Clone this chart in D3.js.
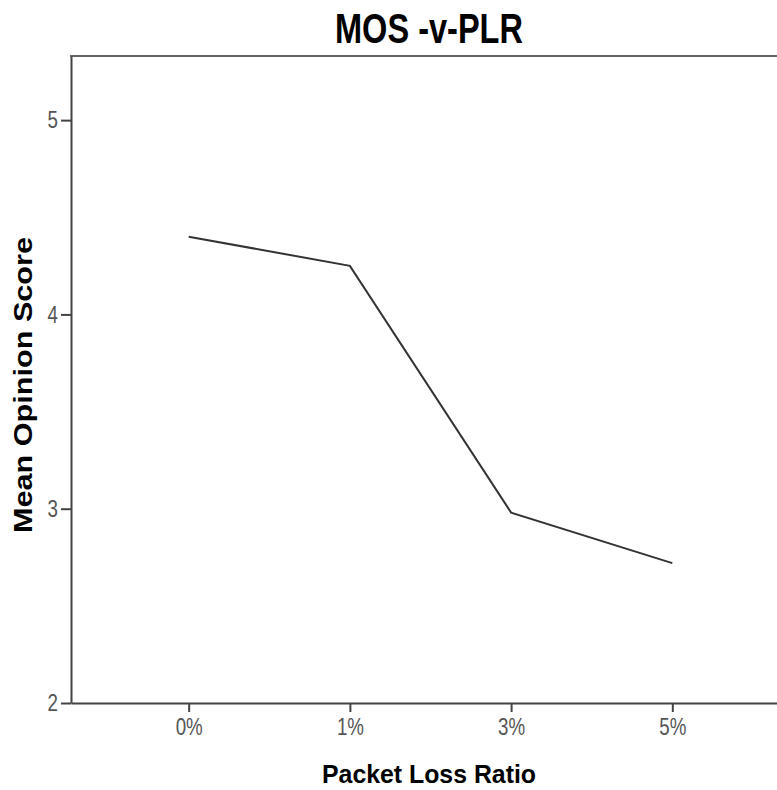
<!DOCTYPE html>
<html>
<head>
<meta charset="utf-8">
<title>MOS -v-PLR</title>
<style>
  body { margin: 0; background: #fff; }
  .tick text { font-family: "Liberation Sans", Arial, sans-serif; font-size: 24px; fill: #555; }
  .tick line, .domain { stroke: #444; stroke-width: 2px; }
</style>
</head>
<body>
<svg width="777" height="790"></svg>
<script src="https://d3js.org/d3.v7.min.js"></script>
<script>
// packet loss ratio categories and mean opinion score
var ratios = ["0%", "1%", "3%", "5%"];
var mos = [4.40, 4.25, 2.98, 2.72];
var yTicks = [2, 3, 4, 5];

var svg = d3.select("svg");
var mLeft = 71, mTop = 56, mBottom = 703, mRight = 790;

var x = d3.scalePoint()
    .domain(ratios)
    .range([mLeft, mRight])
    .padding(0.73);

var y = d3.scaleLinear()
    .domain([2, 5.33])
    .range([mBottom, mTop]);

// squeeze text horizontally like the narrow font of the original
function narrow(sel, k) {
    sel.each(function() {
        var w = this.getComputedTextLength();
        d3.select(this).attr("textLength", w * k).attr("lengthAdjust", "spacingAndGlyphs");
    });
}

// top frame line
svg.append("line")
    .attr("x1", mLeft - 1).attr("x2", 777)
    .attr("y1", mTop).attr("y2", mTop)
    .attr("stroke", "#666").attr("stroke-width", 2);

var yAxis = svg.append("g")
    .attr("transform", "translate(" + mLeft + ",0)")
    .call(d3.axisLeft(y).tickValues(yTicks).tickFormat(d3.format("d")).tickSize(10).tickSizeOuter(0).tickPadding(3));
yAxis.selectAll(".tick text").call(narrow, 0.78);

var xAxis = svg.append("g")
    .attr("transform", "translate(0," + mBottom + ")")
    .call(d3.axisBottom(x).tickSize(9).tickSizeOuter(0).tickPadding(6));
xAxis.selectAll(".tick text").call(narrow, 0.78);

var line = d3.line()
    .x(function(d, i) { return x(ratios[i]); })
    .y(function(d) { return y(d); });

svg.append("path")
    .datum(mos)
    .attr("d", line)
    .attr("fill", "none")
    .attr("stroke", "#333")
    .attr("stroke-width", 2);

svg.append("text")
    .attr("x", 429).attr("y", 43)
    .attr("text-anchor", "middle")
    .attr("textLength", 188).attr("lengthAdjust", "spacingAndGlyphs")
    .style("font", "bold 42px 'Liberation Sans', Arial, sans-serif")
    .text("MOS -v-PLR");

svg.append("text")
    .attr("x", 429).attr("y", 783)
    .attr("text-anchor", "middle")
    .attr("textLength", 214).attr("lengthAdjust", "spacingAndGlyphs")
    .style("font", "bold 25px 'Liberation Sans', Arial, sans-serif")
    .text("Packet Loss Ratio");

svg.append("text")
    .attr("transform", "translate(32,385) rotate(-90)")
    .attr("text-anchor", "middle")
    .attr("textLength", 296).attr("lengthAdjust", "spacingAndGlyphs")
    .style("font", "bold 26px 'Liberation Sans', Arial, sans-serif")
    .text("Mean Opinion Score");
</script>
</body>
</html>
